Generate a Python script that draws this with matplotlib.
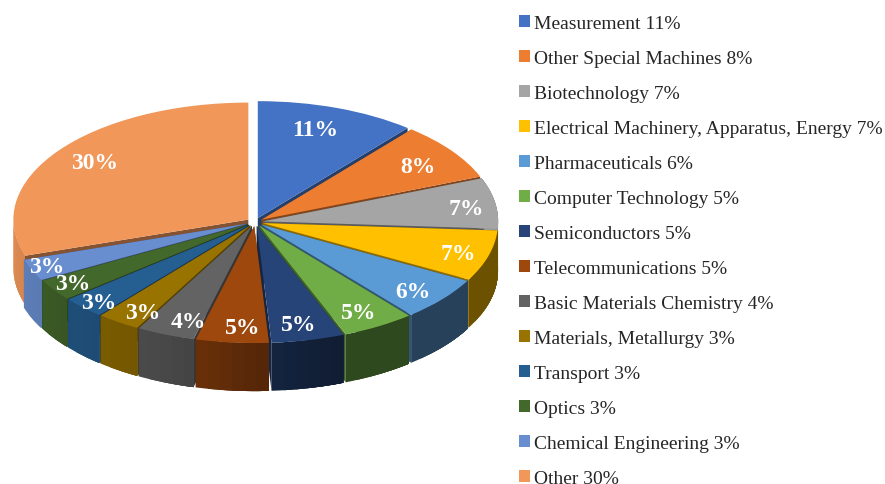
import numpy as np
import matplotlib
matplotlib.use('Agg')
import matplotlib.pyplot as plt
from matplotlib.colors import to_rgb
from matplotlib.patches import Polygon

categories = ['Measurement', 'Other Special Machines', 'Biotechnology',
              'Electrical Machinery, Apparatus, Energy', 'Pharmaceuticals',
              'Computer Technology', 'Semiconductors', 'Telecommunications',
              'Basic Materials Chemistry', 'Materials, Metallurgy', 'Transport',
              'Optics', 'Chemical Engineering', 'Other']
shares = [11, 8, 7, 7, 6, 5, 5, 5, 4, 3, 3, 3, 3, 30]
colors = ['#4472C4', '#ED7D31', '#A5A5A5', '#FFC000', '#5B9BD5', '#70AD47', '#264478',
          '#9E480E', '#636363', '#997300', '#255E91', '#43682B', '#698ED0', '#F1975A']
label_radius = [0.85, 0.85, 0.88, 0.88, 0.88, 0.88, 0.87, 0.87, 0.88, 0.9, 0.93, 0.95, 0.96, 0.85]
# small label shifts in pixels (right, down)
label_nudge = [(-10, 5), (-5, 5), (-1, 3), (-3, 2), (-8, 1), (-6, -2), (-3, -1),
               (8, 0), (13, 0), (11, 0), (4, 1), (9, -3), (6, -2), (8, 1)]

# figure pixels of the pie centre and radii
W, H = 885, 485
CX, CY, RX, RY, DEPTH = 255, 223, 235, 117, 48

plt.rcParams['font.family'] = ['Liberation Serif', 'DejaVu Sans']

fig = plt.figure(figsize=(W / 100, H / 100), dpi=100, facecolor='white')
ax = fig.add_axes([0, 0, 1, 1])

wedges, _, autotexts = ax.pie(shares, colors=colors, startangle=90, counterclock=False,
                              explode=[0.035] * len(shares), radius=1, autopct='%.0f%%',
                              pctdistance=0.87, wedgeprops={'linewidth': 0},
                              textprops={'color': 'white', 'fontweight': 'bold', 'fontsize': 17})
ax.set_aspect('auto')
ax.set_xlim(-CX / RX, (W - CX) / RX)
ax.set_ylim((CY - H) / RY, CY / RY)
depth = DEPTH / RY


def wall_shade(theta):
    return np.interp(theta % 360, [180, 200, 230, 250, 270, 290, 360],
                     [0.93, 0.88, 0.8, 0.72, 0.55, 0.42, 0.42])


# back slices first, so the front ones cover them
mids = [np.radians((w.theta1 + w.theta2) / 2) for w in wedges]
order = np.argsort(-np.sin(mids))
for rank, i in enumerate(order):
    w = wedges[i]
    cx, cy = w.center
    base = np.array(to_rgb(colors[i]))
    w.set_zorder(2 * rank + 1)
    # cut faces of the slice
    for theta in (w.theta1, w.theta2):
        x = cx + np.cos(np.radians(theta))
        y = cy + np.sin(np.radians(theta))
        ax.add_patch(Polygon([(cx, cy), (x, y), (x, y - depth), (cx, cy - depth)],
                             facecolor=base * 0.55, edgecolor='none', zorder=2 * rank))
    # rim, split up so the shading runs round the pie; each facet runs under the next
    t = np.clip(np.arange(w.theta1, w.theta2 + 3, 3), w.theta1, w.theta2)
    for a, b in zip(t[:-1], t[1:]):
        if a >= b or np.sin(np.radians((a + b) / 2)) > 0.02:
            continue
        tt = np.radians(np.linspace(a, w.theta2, 30))
        xs = cx + np.cos(tt)
        ys = cy + np.sin(tt)
        pts = np.r_[np.c_[xs, ys], np.c_[xs, ys - depth][::-1]]
        fc = base * wall_shade((a + b) / 2)
        ax.add_patch(Polygon(pts, facecolor=fc, edgecolor='none', zorder=2 * rank))

for i, txt in enumerate(autotexts):
    cx, cy = wedges[i].center
    dx, dy = label_nudge[i]
    txt.set_position((cx + label_radius[i] * np.cos(mids[i]) + dx / RX,
                      cy + label_radius[i] * np.sin(mids[i]) - dy / RY))
    txt.set_zorder(100)

labels = [f'{name} {v}%' for name, v in zip(categories, shares)]
leg = fig.legend(wedges, labels, loc='center left', bbox_to_anchor=(519 / W, 1 - 252 / H),
                 frameon=False, fontsize=14, labelspacing=0.925, handlelength=0.55,
                 handleheight=0.55, handletextpad=0.2, borderpad=0, borderaxespad=0)
for t in leg.get_texts():
    t.set_color('#262626')

fig.savefig('out.png', dpi=100)
